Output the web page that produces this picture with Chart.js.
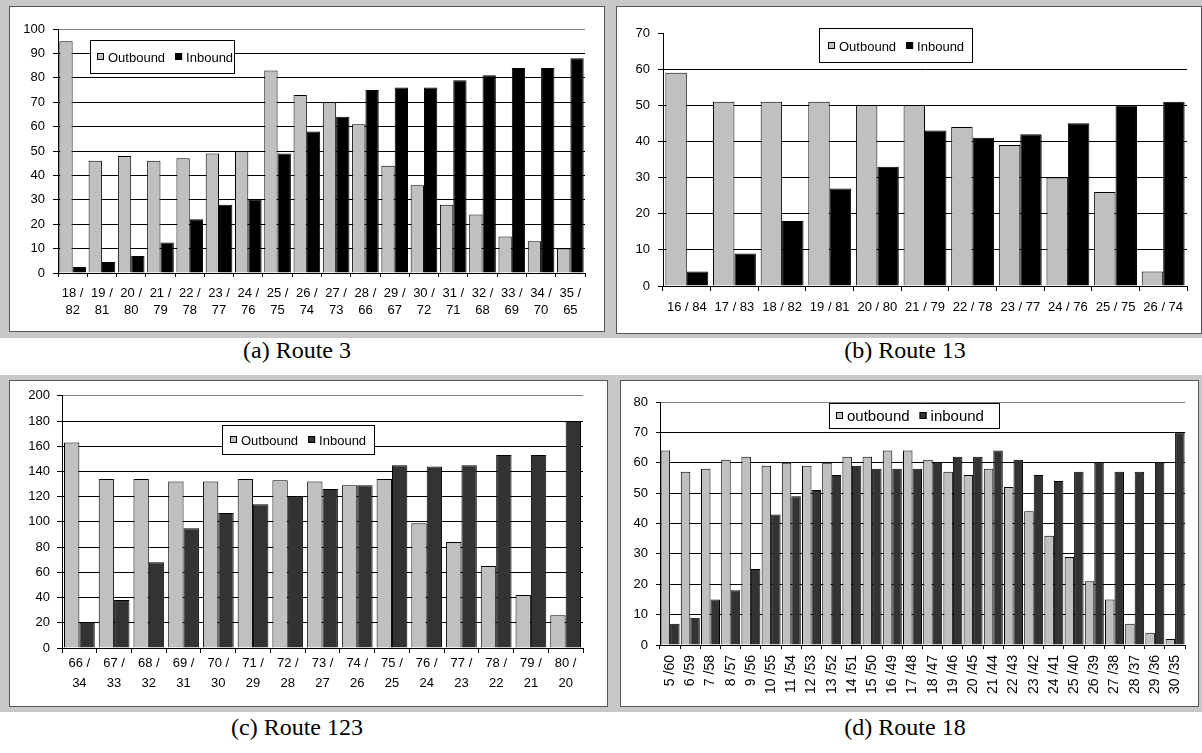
<!DOCTYPE html>
<html>
<head>
<meta charset="utf-8">
<script src="https://cdn.jsdelivr.net/npm/chart.js@4.4.0/dist/chart.umd.min.js"></script>
<style>
  html, body { margin: 0; padding: 0; background: #fff; }
  body { width: 1202px; height: 753px; position: relative; overflow: hidden; }
  .frame { position: absolute; background: #c8c8c8; }
  .inner { position: absolute; background: #fff; border: 1px solid #555; box-sizing: border-box; }
  .inner canvas { position: absolute; left: 0; top: 0; }
  .caption { position: absolute; font-family: "Liberation Serif", "Times New Roman", serif; font-size: 24px;
             line-height: 1; color: #000; transform: translateX(-50%); white-space: nowrap; }
</style>
</head>
<body>
  <div class="frame" style="left:0;top:0;width:610px;height:338px"></div>
  <div class="inner" style="left:9px;top:6px;width:596px;height:326px"><canvas id="route3" width="594" height="324"></canvas></div>
  <div class="caption" style="left:297px;top:338px">(a) Route 3</div>

  <div class="frame" style="left:610px;top:0;width:592px;height:338px"></div>
  <div class="inner" style="left:616px;top:6px;width:586px;height:328px"><canvas id="route13" width="584" height="326"></canvas></div>
  <div class="caption" style="left:905px;top:338px">(b) Route 13</div>

  <div class="frame" style="left:0;top:375px;width:613px;height:337px"></div>
  <div class="inner" style="left:9px;top:380px;width:599px;height:327px"><canvas id="route123" width="597" height="325"></canvas></div>
  <div class="caption" style="left:297px;top:715px">(c) Route 123</div>

  <div class="frame" style="left:613px;top:375px;width:589px;height:337px"></div>
  <div class="inner" style="left:620px;top:380px;width:579px;height:327px"><canvas id="route18" width="577" height="325"></canvas></div>
  <div class="caption" style="left:905px;top:715px">(d) Route 18</div>

<script>
// ---- Route 3 ----
const route3Labels = ['18 / 82', '19 / 81', '20 / 80', '21 / 79', '22 / 78', '23 / 77', '24 / 76', '25 / 75', '26 / 74',
                      '27 / 73', '28 / 66', '29 / 67', '30 / 72', '31 / 71', '32 / 68', '33 / 69', '34 / 70', '35 / 65'];
const route3Outbound = [95, 46, 48, 46, 47, 49, 50, 83, 73, 70, 61, 44, 36, 28, 24, 15, 13, 10];
const route3Inbound = [2.5, 4.5, 7, 12.5, 22, 28, 30, 49, 58, 64, 75, 76, 76, 79, 81, 84, 84, 88];

// ---- Route 13 ----
const route13Labels = ['16 / 84', '17 / 83', '18 / 82', '19 / 81', '20 / 80', '21 / 79', '22 / 78', '23 / 77', '24 / 76', '25 / 75', '26 / 74'];
const route13Outbound = [59, 51, 51, 51, 50, 50, 44, 39, 30, 26, 4];
const route13Inbound = [4, 9, 18, 27, 33, 43, 41, 42, 45, 50, 51];

// ---- Route 123 ----
const route123Labels = ['66 / 34', '67 / 33', '68 / 32', '69 / 31', '70 / 30', '71 / 29', '72 / 28', '73 / 27',
                        '74 / 26', '75 / 25', '76 / 24', '77 / 23', '78 / 22', '79 / 21', '80 / 20'];
const route123Outbound = [163, 134, 134, 132, 132, 134, 133, 132, 129, 134, 99, 84, 65, 42, 26];
const route123Inbound = [20, 38, 68, 95, 107, 114, 120, 126, 129, 145, 144, 145, 153, 153, 180];

// ---- Route 18 ----
const route18Labels = ['5 /60', '6 /59', '7 /58', '8 /57', '9 /56', '10 /55', '11 /54', '12 /53', '13 /52', '14 /51', '15 /50',
                       '16 /49', '17 /48', '18 /47', '19 /46', '20 /45', '21 /44', '22 /43', '23 /42', '24 /41', '25 /40',
                       '26 /39', '27 /38', '28 /37', '29 /36', '30 /35'];
const route18Outbound = [64, 57, 58, 61, 62, 59, 60, 59, 60, 62, 62, 64, 64, 61, 57, 56, 58, 52, 44, 36, 29, 21, 15, 7, 4, 2];
const route18Inbound = [7, 9, 15, 18, 25, 43, 49, 51, 56, 59, 58, 58, 58, 60, 62, 62, 64, 61, 56, 54, 57, 60, 57, 57, 60, 70];

Chart.defaults.font.family = '"Liberation Sans", Arial, sans-serif';
Chart.defaults.color = '#000';

// Boxed legend drawn inside the plot, over the grid lines
const boxLegend = {
  id: 'boxLegend',
  afterDatasetsDraw(chart, args, o) {
    const ctx = chart.ctx;
    ctx.save();
    ctx.fillStyle = '#fff';
    ctx.fillRect(o.x, o.y, o.w, o.h);
    ctx.strokeStyle = '#000';
    ctx.lineWidth = 1;
    ctx.strokeRect(o.x + 0.5, o.y + 0.5, o.w - 1, o.h - 1);
    ctx.font = o.size + 'px "Liberation Sans", Arial, sans-serif';
    ctx.textBaseline = 'middle';
    let cx = o.x + o.padLeft;
    const cy = Math.round(o.y + o.h / 2);
    chart.data.datasets.forEach(ds => {
      const top = cy - Math.round(o.square / 2);
      ctx.fillStyle = ds.backgroundColor;
      ctx.fillRect(cx, top, o.square, o.square);
      ctx.strokeStyle = '#000';
      ctx.strokeRect(cx + 0.5, top + 0.5, o.square - 1, o.square - 1);
      cx += o.square + o.gap;
      ctx.fillStyle = '#000';
      ctx.fillText(ds.label, cx, cy + 1);
      cx += ctx.measureText(ds.label).width + o.itemGap;
    });
    ctx.restore();
  }
};

function twoLines(s) {
  const p = s.split('/');
  return [p[0].trim() + ' /', p[1].trim()];
}

function buildChart(id, s) {
  const canvas = document.getElementById(id);
  const W = canvas.width, H = canvas.height;
  const ds = (label, data, color) => ({
    label, data, backgroundColor: color, borderColor: '#000', borderWidth: 1,
    borderSkipped: 'start', categoryPercentage: s.catPct, barPercentage: 1
  });
  return new Chart(canvas, {
    type: 'bar',
    data: {
      labels: s.labels,
      datasets: [ds(s.names[0], s.outbound, '#c0c0c0'), ds(s.names[1], s.inbound, s.inboundColor)]
    },
    options: {
      responsive: false, animation: false, devicePixelRatio: 1,
      layout: { padding: { left: 0, top: s.area.top, right: W - s.area.right, bottom: 0 } },
      plugins: { legend: { display: false }, tooltip: { enabled: false }, boxLegend: s.legend },
      scales: {
        x: {
          grid: { drawOnChartArea: false, color: '#000', tickLength: s.xTick.len },
          border: { color: '#000' },
          ticks: {
            color: '#000', autoSkip: false, padding: s.xTick.pad,
            maxRotation: s.xTick.rot, minRotation: s.xTick.rot,
            font: { size: s.xTick.size, lineHeight: s.xTick.lh },
            callback: (v, i) => s.twoLine ? twoLines(s.labels[i]) : s.labels[i]
          },
          afterFit: sc => { sc.height = H - s.area.bottom; }
        },
        y: {
          min: 0, max: s.yMax,
          ticks: { stepSize: s.yStep, color: '#000', padding: s.yTick.pad, font: { size: s.yTick.size } },
          grid: {
            color: c => (c.tick && c.tick.value === s.yMax) ? s.topLine : '#000',
            tickColor: '#000', tickLength: s.yTick.len
          },
          border: { color: '#000' },
          afterFit: sc => { sc.width = s.area.left; }
        }
      }
    },
    plugins: [boxLegend]
  });
}

buildChart('route3', {
  labels: route3Labels, outbound: route3Outbound, inbound: route3Inbound,
  names: ['Outbound', 'Inbound'], inboundColor: '#000000', twoLine: true,
  yMax: 100, yStep: 10, topLine: '#808080', catPct: 0.91,
  area: { left: 48, top: 22, right: 575, bottom: 266 },
  xTick: { len: 4, pad: 7.5, rot: 0, size: 13, lh: 17 / 13 },
  yTick: { len: 5, pad: 8, size: 13 },
  legend: { x: 80, y: 33, w: 145, h: 34, size: 13, square: 7, padLeft: 7, gap: 4, itemGap: 10 }
});

buildChart('route13', {
  labels: route13Labels, outbound: route13Outbound, inbound: route13Inbound,
  names: ['Outbound', 'Inbound'], inboundColor: '#000000', twoLine: false,
  yMax: 70, yStep: 10, topLine: 'rgba(0,0,0,0)', catPct: 0.9,
  area: { left: 46, top: 26, right: 570, bottom: 279 },
  xTick: { len: 5, pad: 9, rot: 0, size: 13, lh: 1.2 },
  yTick: { len: 5, pad: 8, size: 13 },
  legend: { x: 202, y: 21, w: 154, h: 35, size: 13, square: 7, padLeft: 9, gap: 4, itemGap: 10 }
});

buildChart('route123', {
  labels: route123Labels, outbound: route123Outbound, inbound: route123Inbound,
  names: ['Outbound', 'Inbound'], inboundColor: '#333333', twoLine: true,
  yMax: 200, yStep: 20, topLine: '#808080', catPct: 0.885,
  area: { left: 52, top: 12, right: 573, bottom: 267 },
  xTick: { len: 5, pad: 0, rot: 0, size: 13, lh: 20 / 13 },
  yTick: { len: 5, pad: 7, size: 13 },
  legend: { x: 212, y: 44, w: 153, h: 30, size: 13, square: 7, padLeft: 8, gap: 4, itemGap: 10 }
});

buildChart('route18', {
  labels: route18Labels, outbound: route18Outbound, inbound: route18Inbound,
  names: ['outbound', 'inbound'], inboundColor: '#333333', twoLine: false,
  yMax: 80, yStep: 10, topLine: '#808080', catPct: 0.94,
  area: { left: 39, top: 21, right: 571, bottom: 264 },
  xTick: { len: 4, pad: 6, rot: 90, size: 14, lh: 1.2 },
  yTick: { len: 4, pad: 8, size: 13 },
  legend: { x: 208, y: 22, w: 171, h: 26, size: 15, square: 7, padLeft: 7, gap: 4, itemGap: 10 }
});
</script>
</body>
</html>
